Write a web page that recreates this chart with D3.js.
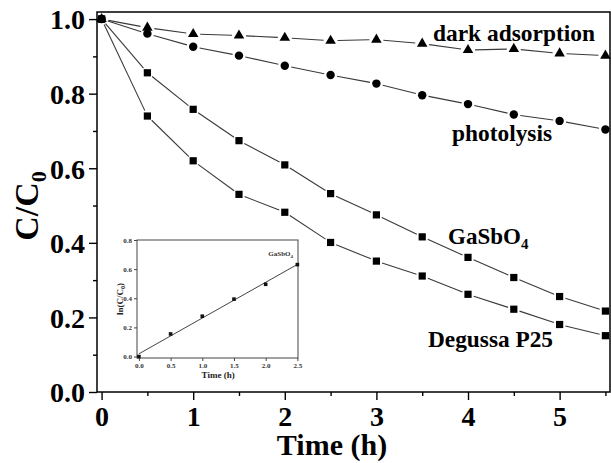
<!DOCTYPE html>
<html>
<head>
<meta charset="utf-8">
<script src="https://cdn.jsdelivr.net/npm/d3@7/dist/d3.min.js"></script>
<style>
  html, body { margin: 0; padding: 0; background: #fff; }
  svg { display: block; font-family: "Liberation Serif", "Times New Roman", serif; }
</style>
</head>
<body>
<svg id="chart" width="611" height="463"></svg>
<script>
// ---------- data ----------
const time = [0, 0.5, 1, 1.5, 2, 2.5, 3, 3.5, 4, 4.5, 5, 5.5];
const darkAdsorption = [1.0, 0.977, 0.960, 0.956, 0.950, 0.942, 0.945, 0.934, 0.917, 0.920, 0.908, 0.902];
const photolysis = [1.0, 0.961, 0.926, 0.902, 0.875, 0.850, 0.827, 0.796, 0.772, 0.744, 0.727, 0.704];
const gasbo4 = [1.0, 0.856, 0.758, 0.674, 0.609, 0.532, 0.475, 0.416, 0.361, 0.307, 0.256, 0.217];
const degussaP25 = [1.0, 0.740, 0.620, 0.530, 0.482, 0.401, 0.351, 0.311, 0.262, 0.222, 0.181, 0.151];

const xTicks = [0, 1, 2, 3, 4, 5];
const xMinorTicks = [0.5, 1.5, 2.5, 3.5, 4.5, 5.5];
const yTicks = [0.0, 0.2, 0.4, 0.6, 0.8, 1.0];
const yMinorTicks = [0.1, 0.3, 0.5, 0.7, 0.9];

const insetTime = [0, 0.5, 1, 1.5, 2, 2.5];
const insetLn = [0.0, 0.155, 0.277, 0.394, 0.496, 0.631];
const insetXTicks = [0, 0.5, 1.0, 1.5, 2.0, 2.5];
const insetYTicks = [0.0, 0.2, 0.4, 0.6, 0.8];

// ---------- layout ----------
const svg = d3.select("#chart");
const plot = { left: 97, top: 12, right: 610, bottom: 392 };
const x = d3.scaleLinear().domain([-0.05, 5.55]).range([plot.left, plot.right]);
const y = d3.scaleLinear().domain([0, 1.019]).range([plot.bottom, plot.top]);

const lineColor = "#3a3a3a";

// segments with gaps near markers
function drawSeries(values, gap, cls) {
  const pts = time.map((t, i) => [x(t), y(values[i])]);
  const segs = [];
  for (let i = 0; i < pts.length - 1; i++) {
    const [x1, y1] = pts[i], [x2, y2] = pts[i + 1];
    const dx = x2 - x1, dy = y2 - y1, L = Math.hypot(dx, dy);
    if (L <= 2 * gap) continue;
    const ux = dx / L, uy = dy / L;
    segs.push([x1 + ux * gap, y1 + uy * gap, x2 - ux * gap, y2 - uy * gap]);
  }
  svg.append("g").attr("class", cls).selectAll("line").data(segs).join("line")
    .attr("x1", d => d[0]).attr("y1", d => d[1]).attr("x2", d => d[2]).attr("y2", d => d[3])
    .attr("stroke", lineColor).attr("stroke-width", 1.1);
  return pts;
}

const sqPts1 = drawSeries(gasbo4, 6, "gasbo4");
const sqPts2 = drawSeries(degussaP25, 6, "p25");
const triPts = drawSeries(darkAdsorption, 7, "dark");
const cirPts = drawSeries(photolysis, 6.5, "photo");

const sym = (type, size) => d3.symbol().type(type).size(size)();
function drawMarkers(pts, type, size) {
  svg.append("g").selectAll("path").data(pts).join("path")
    .attr("transform", d => `translate(${d[0]},${d[1]})`)
    .attr("d", sym(type, size)).attr("fill", "#000");
}
drawMarkers(sqPts1, d3.symbolSquare, 52);
drawMarkers(sqPts2, d3.symbolSquare, 52);
drawMarkers(triPts, d3.symbolTriangle, 48);
drawMarkers(cirPts, d3.symbolCircle, 56);

// ---------- axes ----------
const fontMain = 28;
const xAxis = svg.append("g").attr("transform", `translate(0,${plot.bottom})`)
  .call(d3.axisBottom(x).tickValues(xTicks).tickFormat(d3.format("d")).tickSize(8).tickPadding(6));
svg.append("g").attr("transform", `translate(0,${plot.bottom})`)
  .call(d3.axisBottom(x).tickValues(xMinorTicks).tickFormat("").tickSize(4));
const yAxis = svg.append("g").attr("transform", `translate(${plot.left},0)`)
  .call(d3.axisLeft(y).tickValues(yTicks).tickFormat(d3.format(".1f")).tickSize(8).tickPadding(4));
svg.append("g").attr("transform", `translate(${plot.left},0)`)
  .call(d3.axisLeft(y).tickValues(yMinorTicks).tickFormat("").tickSize(4));

svg.selectAll(".domain").remove();
svg.selectAll(".tick line").attr("stroke", "#000").attr("stroke-width", 1.4);
xAxis.selectAll("text").attr("font-size", fontMain).attr("font-weight", "bold").attr("font-family", "Liberation Serif, serif").attr("fill", "#000");
yAxis.selectAll("text").attr("font-size", fontMain).attr("font-weight", "bold").attr("font-family", "Liberation Serif, serif").attr("fill", "#000").attr("dy", "0.35em");

// frame
svg.append("rect").attr("x", plot.left).attr("y", plot.top)
  .attr("width", plot.right - plot.left).attr("height", plot.bottom - plot.top)
  .attr("fill", "none").attr("stroke", "#000").attr("stroke-width", 1.5);

// axis titles
svg.append("text").attr("x", 332).attr("y", 455).attr("text-anchor", "middle")
  .attr("font-size", 30).attr("font-weight", "bold").text("Time (h)");
const yt = svg.append("text").attr("transform", "translate(38,206) rotate(-90)")
  .attr("text-anchor", "middle").attr("font-size", 34).attr("font-weight", "bold");
yt.append("tspan").text("C/C");
yt.append("tspan").attr("font-size", 22).attr("dy", 8).text("0");

// series labels
const labelFs = 23;
function label(xp, yp, txt, len, sub) {
  const t = svg.append("text").attr("x", xp).attr("y", yp)
    .attr("font-size", labelFs).attr("font-weight", "bold");
  if (sub) {
    t.text(txt);
    t.append("tspan").attr("font-size", 15).attr("dy", 5).text(sub);
  } else {
    t.attr("textLength", len).attr("lengthAdjust", "spacingAndGlyphs").text(txt);
  }
}
label(433, 41, "dark adsorption", 162);
label(452, 141, "photolysis", 100);
label(448, 244, "GaSbO", 0, "4");
label(428, 347, "Degussa P25", 125);

// ---------- inset ----------
const ins = { left: 137, top: 240, right: 298, bottom: 358 };
const ix = d3.scaleLinear().domain([-0.03, 2.51]).range([ins.left, ins.right]);
const iy = d3.scaleLinear().domain([-0.01, 0.8]).range([ins.bottom, ins.top]);

svg.append("rect").attr("x", ins.left).attr("y", ins.top)
  .attr("width", ins.right - ins.left).attr("height", ins.bottom - ins.top)
  .attr("fill", "#fff").attr("stroke", "#444").attr("stroke-width", 1);

const ixAxis = svg.append("g").attr("transform", `translate(0,${ins.bottom})`)
  .call(d3.axisBottom(ix).tickValues(insetXTicks).tickFormat(d3.format(".1f")).tickSize(3).tickPadding(2));
const iyAxis = svg.append("g").attr("transform", `translate(${ins.left},0)`)
  .call(d3.axisLeft(iy).tickValues(insetYTicks).tickFormat(d3.format(".1f")).tickSize(3).tickPadding(2));
[ixAxis, iyAxis].forEach(g => {
  g.select(".domain").remove();
  g.selectAll(".tick line").attr("stroke", "#444");
  g.selectAll("text").attr("font-size", 7).attr("font-weight", "bold").attr("font-family", "Liberation Serif, serif").attr("fill", "#333");
});

// linear fit
const mx = d3.mean(insetTime), my = d3.mean(insetLn);
const slope = d3.sum(insetTime.map((t, i) => (t - mx) * (insetLn[i] - my))) / d3.sum(insetTime.map(t => (t - mx) ** 2));
const icpt = my - slope * mx;
svg.append("line").attr("x1", ix(0)).attr("y1", iy(icpt)).attr("x2", ix(2.5)).attr("y2", iy(icpt + slope * 2.5))
  .attr("stroke", "#444").attr("stroke-width", 1);
svg.append("g").selectAll("rect").data(insetTime.map((t, i) => [ix(t), iy(insetLn[i])])).join("rect")
  .attr("x", d => d[0] - 1.8).attr("y", d => d[1] - 1.8).attr("width", 3.6).attr("height", 3.6).attr("fill", "#111");

svg.append("text").attr("x", (ix(0) + ix(2.5)) / 2).attr("y", 378).attr("text-anchor", "middle")
  .attr("font-size", 9).attr("font-weight", "bold").attr("fill", "#222").text("Time (h)");
const iyt = svg.append("text").attr("transform", `translate(123,${(ins.top + ins.bottom) / 2}) rotate(-90)`)
  .attr("text-anchor", "middle").attr("font-size", 9).attr("font-weight", "bold").attr("fill", "#222");
iyt.append("tspan").text("ln(C/C");
iyt.append("tspan").attr("font-size", 6).attr("dy", 2).text("0");
iyt.append("tspan").attr("dy", -2).text(")");
const gl = svg.append("text").attr("x", 293).attr("y", 256).attr("text-anchor", "end")
  .attr("font-size", 7).attr("font-weight", "bold").attr("fill", "#333").text("GaSbO");
gl.append("tspan").attr("font-size", 5).attr("dy", 2).text("4");
</script>
</body>
</html>
